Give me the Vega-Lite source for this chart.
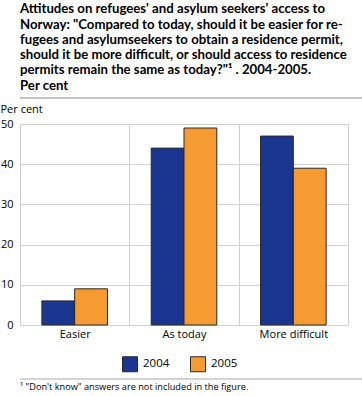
{
  "$schema": "https://vega.github.io/schema/vega-lite/v6.json",
  "padding": {"top": 2, "left": 0, "right": 0, "bottom": 0},
  "background": "white",
  "spacing": 4,
  "config": {"font": "Open Sans", "view": {"stroke": null}},
  "resolve": {"legend": {"color": "independent"}},
  "vconcat": [
    {
      "width": 362,
      "height": 2,
      "data": {"values": [{"divider": "title"}]},
      "mark": {"type": "rect", "fill": "#c4c4c4"},
      "encoding": {},
      "title": {
        "text": [
          "Attitudes on refugees' and asylum seekers' access to",
          "Norway: \"Compared to today, should it be easier for re-",
          "fugees and asylumseekers to obtain a residence permit,",
          "should it be more difficult, or should access to residence",
          "permits remain the same as today?\"¹ . 2004-2005.",
          "Per cent"
        ],
        "anchor": "start",
        "frame": "group",
        "font": "Lato",
        "fontSize": 13.2,
        "fontWeight": "bold",
        "lineHeight": 15.3,
        "offset": 4,
        "color": "#000000"
      }
    },
    {
      "width": 328,
      "height": 201,
      "data": {
        "values": [
          {"category": "Easier", "year": "2004", "value": 6},
          {"category": "Easier", "year": "2005", "value": 9},
          {"category": "As today", "year": "2004", "value": 44},
          {"category": "As today", "year": "2005", "value": 49},
          {"category": "More difficult", "year": "2004", "value": 47},
          {"category": "More difficult", "year": "2005", "value": 39}
        ]
      },
      "mark": {"type": "bar", "stroke": "#2a2a2a", "strokeWidth": 1},
      "encoding": {
        "x": {
          "field": "category",
          "type": "nominal",
          "sort": ["Easier", "As today", "More difficult"],
          "scale": {"paddingInner": 0, "paddingOuter": 0},
          "axis": {
            "title": null,
            "labelAngle": 0,
            "tickBand": "extent",
            "grid": true,
            "ticks": false,
            "domain": false,
            "gridColor": "#d0d0d0",
            "labelFontSize": 11,
            "labelColor": "#000000",
            "labelPadding": 3
          }
        },
        "xOffset": {
          "field": "year",
          "type": "nominal",
          "scale": {"paddingInner": 0, "paddingOuter": 0.667}
        },
        "y": {
          "field": "value",
          "type": "quantitative",
          "scale": {"domain": [0, 50]},
          "axis": {
            "values": [0, 10, 20, 30, 40, 50],
            "title": "Per cent",
            "titleAngle": 0,
            "titleAlign": "left",
            "titleBaseline": "bottom",
            "titleX": -20,
            "titleY": -10,
            "titleFontWeight": "normal",
            "titleFontSize": 11,
            "titleColor": "#000000",
            "ticks": false,
            "domain": false,
            "gridColor": "#d0d0d0",
            "labelFontSize": 11,
            "labelColor": "#000000",
            "labelPadding": 7
          }
        },
        "color": {
          "field": "year",
          "type": "nominal",
          "scale": {"range": ["#1a3690", "#f59b32"]},
          "legend": {
            "orient": "none",
            "legendX": 102,
            "legendY": 232,
            "direction": "horizontal",
            "title": null,
            "symbolType": "square",
            "symbolSize": 225,
            "symbolStrokeColor": "#2a2a2a",
            "symbolStrokeWidth": 1,
            "labelFontSize": 11.5,
            "labelColor": "#000000",
            "columnPadding": 18,
            "labelOffset": 5
          }
        }
      }
    },
    {
      "width": 362,
      "height": 1,
      "data": {"values": [{"divider": "footnote"}]},
      "mark": {"type": "rule", "stroke": "#a8a8a8", "strokeWidth": 1},
      "encoding": {"y": {"datum": 0, "type": "quantitative", "axis": null}},
      "title": {
        "text": "¹ \"Don't know\" answers are not included in the figure.",
        "orient": "bottom",
        "anchor": "start",
        "frame": "group",
        "fontSize": 9.2,
        "fontWeight": "normal",
        "offset": 3,
        "color": "#000000"
      }
    }
  ]
}
